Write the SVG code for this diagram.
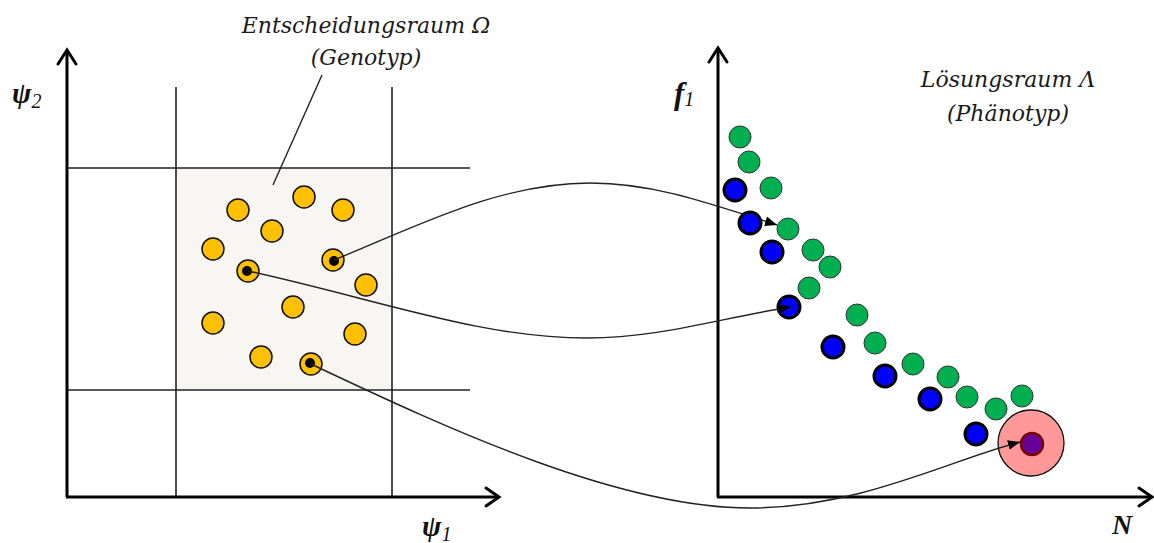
<svg xmlns="http://www.w3.org/2000/svg" width="1154" height="543" viewBox="0 0 1154 543">
<style>
.grid{stroke:#222;stroke-width:1.6;fill:none}
.axis{stroke:#000;stroke-width:3;fill:none}
.head{stroke:#000;stroke-width:3;fill:none;stroke-linecap:round;stroke-linejoin:miter}
.yel{fill:#ffc000;stroke:#111;stroke-width:1.5}
.dot{fill:#000}
.grn{fill:#00b050;stroke:#333;stroke-width:1}
.blu{fill:#0000ff;stroke:#000;stroke-width:3}
.conn{stroke:#222;stroke-width:1.4;fill:none}
.lbl{font-family:"DejaVu Serif","Liberation Serif",serif;font-style:italic;font-size:22px;fill:#1a1a1a}
.ax{font-family:"Liberation Serif","DejaVu Serif",serif;font-style:italic;font-weight:bold;fill:#111}
</style>
<defs>
<marker id="arr" markerWidth="12" markerHeight="10" refX="12" refY="5" orient="auto" markerUnits="userSpaceOnUse">
<path d="M0,0 L12,5 L0,10 Z" fill="#000"/>
</marker>
</defs>
<rect width="1154" height="543" fill="#fff"/>

<g id="decision-space">
<rect x="176" y="168" width="216" height="222" fill="#f7f6f3"/>
<line class="grid" x1="176" y1="87" x2="176" y2="497"/>
<line class="grid" x1="392" y1="87" x2="392" y2="497"/>
<line class="grid" x1="67" y1="168" x2="470" y2="168"/>
<line class="grid" x1="67" y1="390" x2="470" y2="390"/>
<line class="axis" x1="67" y1="497" x2="67" y2="50"/>
<line class="axis" x1="66" y1="497" x2="498" y2="497"/>
<path class="head" d="M58,64 L67,50 L76,64"/>
<path class="head" d="M486,488 L499,497 L486,506"/>
<text class="ax" x="12" y="103" font-size="29">ψ<tspan font-size="20" font-weight="normal" dy="5">2</tspan></text>
<text class="ax" x="422" y="536" font-size="29">ψ<tspan font-size="20" font-weight="normal" dy="5">1</tspan></text>
<text class="lbl" x="366" y="33" text-anchor="middle">Entscheidungsraum Ω</text>
<text class="lbl" x="366" y="65" text-anchor="middle">(Genotyp)</text>
<line class="conn" x1="322" y1="75" x2="273" y2="185"/>
</g>

<g id="genotype-points">
<circle class="yel" cx="238" cy="210" r="11"/>
<circle class="yel" cx="304" cy="197" r="11"/>
<circle class="yel" cx="343" cy="210" r="11"/>
<circle class="yel" cx="272" cy="231" r="11"/>
<circle class="yel" cx="213" cy="249" r="11"/>
<circle class="yel" cx="366" cy="285" r="11"/>
<circle class="yel" cx="293" cy="307" r="11"/>
<circle class="yel" cx="213" cy="323" r="11"/>
<circle class="yel" cx="355" cy="334" r="11"/>
<circle class="yel" cx="261" cy="357" r="11"/>
</g>
<g id="genotype-a"><circle class="yel" cx="333" cy="260" r="11"/><circle class="dot" cx="334" cy="261" r="5"/></g>
<g id="genotype-b"><circle class="yel" cx="248" cy="271" r="11"/><circle class="dot" cx="247" cy="271" r="5"/></g>
<g id="genotype-c"><circle class="yel" cx="311" cy="364" r="11"/><circle class="dot" cx="310" cy="363" r="5"/></g>

<g id="solution-space">
<line class="axis" x1="718" y1="497" x2="718" y2="48"/>
<line class="axis" x1="717" y1="497" x2="1151" y2="497"/>
<path class="head" d="M709,62 L718,48 L727,62"/>
<path class="head" d="M1139,488 L1152,497 L1139,506"/>
<text class="ax" x="674" y="104" font-size="31">f<tspan font-size="20" font-weight="normal" dy="2">1</tspan></text>
<text class="ax" x="1112" y="534" font-size="28">N</text>
<text class="lbl" x="1008" y="87" text-anchor="middle">Lösungsraum Λ</text>
<text class="lbl" x="1008" y="121" text-anchor="middle">(Phänotyp)</text>
</g>

<g id="phenotype-green">
<circle class="grn" cx="740" cy="137" r="11"/>
<circle class="grn" cx="749" cy="162" r="11"/>
<circle class="grn" cx="771" cy="188" r="11"/>
<circle class="grn" cx="788" cy="229" r="11"/>
<circle class="grn" cx="813" cy="250" r="11"/>
<circle class="grn" cx="830" cy="267" r="11"/>
<circle class="grn" cx="809" cy="288" r="11"/>
<circle class="grn" cx="857" cy="315" r="11"/>
<circle class="grn" cx="875" cy="343" r="11"/>
<circle class="grn" cx="913" cy="364" r="11"/>
<circle class="grn" cx="948" cy="377" r="11"/>
<circle class="grn" cx="967" cy="397" r="11"/>
<circle class="grn" cx="996" cy="409" r="11"/>
<circle class="grn" cx="1022" cy="396" r="11"/>
</g>
<g id="phenotype-blue">
<circle class="blu" cx="735" cy="190" r="11"/>
<circle class="blu" cx="772" cy="252" r="11"/>
<circle class="blu" cx="789" cy="307" r="11"/>
<circle class="blu" cx="833" cy="347" r="11"/>
<circle class="blu" cx="885" cy="376" r="11"/>
<circle class="blu" cx="930" cy="399" r="11"/>
<circle class="blu" cx="976" cy="434" r="11"/>
</g>
<g id="optimum">
<circle cx="1031" cy="443" r="33" fill="#ff9999" stroke="#111" stroke-width="1.3"/>
<circle cx="1032" cy="444" r="11" fill="#660099" stroke="#7a0000" stroke-width="2.5"/>
</g>

<g id="connectors">
<path class="conn" marker-end="url(#arr)" d="M334,260 C420,225 500,183 590,183 C650,183 700,200 777,225"/>
<path class="conn" marker-end="url(#arr)" d="M248,271 C380,300 480,338 587,338 C660,338 720,318 791,307"/>
<path class="conn" marker-end="url(#arr)" d="M311,364 C450,430 620,508 750,508 C860,508 950,460 1020,442"/>
</g>

<g id="phenotype-blue-a">
<circle class="blu" cx="750" cy="223" r="11"/>
</g>
</svg>
